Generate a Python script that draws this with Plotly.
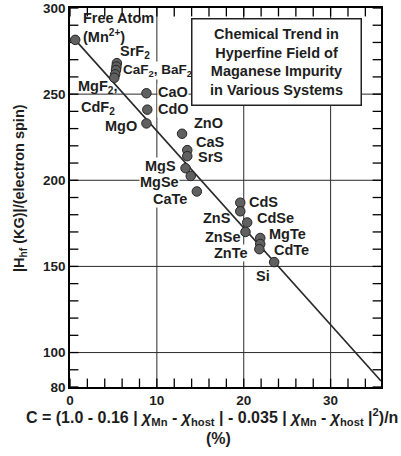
import plotly.graph_objects as go

# ---- data ----
systems = ["Free Atom", "SrF2", "CaF2", "BaF2", "MgF2", "CdF2",
           "CaO", "CdO", "MgO",
           "ZnO", "CaS", "SrS", "MgS", "MgSe", "CaTe",
           "CdS", "ZnS", "CdSe", "ZnSe", "MgTe", "CdTe", "ZnTe", "Si"]
c_percent = [0.6, 5.4, 5.35, 5.3, 5.2, 5.1,
             8.8, 8.9, 8.8,
             12.9, 13.5, 13.5, 13.3, 13.9, 14.6,
             19.6, 19.6, 20.4, 20.2, 21.9, 21.9, 21.8, 23.5]
h_field = [281.5, 268, 266, 264, 261.5, 259.5,
           250.5, 241, 233,
           227, 217.5, 214, 207, 202.5, 193.5,
           187, 182, 175.5, 170, 166.5, 163, 160, 152.5]

fit_x = [0.6, 35.8]
fit_y = [281.5, 83.5]

x_range = [0, 35.8]
y_range = [80, 300]
x_tick_vals = list(range(0, 36, 2))
x_tick_text = [str(v) if v % 10 == 0 else "" for v in x_tick_vals]
y_tick_vals = list(range(80, 301, 10))
y_label_vals = [80, 100, 150, 200, 250, 300]
y_tick_text = [str(v) if v in y_label_vals else "" for v in y_tick_vals]
x_grid_vals = [10, 20, 30]
y_grid_vals = [100, 150, 200, 250]

# ---- label texts and placement ----
label_text = ["Free Atom", "(Mn<sup>2+</sup>)", "SrF<sub>2</sub>",
              "CaF<sub>2</sub>, BaF<sub>2</sub>", "MgF<sub>2</sub>,", "CdF<sub>2</sub>",
              "CaO", "CdO", "MgO", "ZnO", "CaS", "SrS", "MgS", "MgSe", "CaTe",
              "CdS", "ZnS", "CdSe", "ZnSe", "MgTe", "ZnTe", "CdTe", "Si"]
label_x = [1.39, 1.39, 5.66, 5.95, 0.81, 1.15,
           10.05, 10.05, 7.85, 14.2, 14.43, 14.67, 12.36, 12.7, 13.63,
           20.44, 18.7, 21.36, 19.63, 22.75, 20.55, 23.33, 22.17]
label_y = [294.2, 283.5, 274.5, 264.0, 254.3, 241.8,
           251.2, 241.4, 231.5, 233.2, 222.2, 213.5, 208.3, 199, 189.1,
           187.4, 178.1, 178.1, 167.1, 168.8, 157.8, 159.5, 144.4]
label_size = [14.5, 14.5, 14.5, 13.5, 14.5, 14.5,
              14.5, 14.5, 14.5, 14.5, 14.5, 14.5, 14.5, 14.5, 14.5,
              14.5, 14.5, 14.5, 14.5, 14.5, 14.5, 14.5, 14.5]
label_anchor = ["left", "left", "left", "left", "left", "left",
                "left", "left", "right", "left", "left", "left", "right", "right", "right",
                "left", "right", "left", "right", "left", "right", "left", "center"]
label_bg = [False, False, False, True, False, False,
            True, True, False, False, False, False, True, True, True,
            False, False, False, False, False, True, False, False]

FONT = "Liberation Sans, Arial, sans-serif"
INK = "#1e1e1e"
GRID = "#2a2a2a"

fig = go.Figure()

# grid lines (below the data)
for gx in x_grid_vals:
    fig.add_vline(x=gx, line=dict(color=GRID, width=1), layer="below")
for gy in y_grid_vals:
    fig.add_hline(y=gy, line=dict(color=GRID, width=1), layer="below")

# inward tick marks on all four sides (half of each marker is clipped by the frame)
tick_mark = dict(color="black", width=1.3)
for edge_y in y_range:
    fig.add_trace(go.Scatter(
        x=x_tick_vals, y=[edge_y] * len(x_tick_vals), mode="markers",
        marker=dict(symbol="line-ns", size=12, line=tick_mark),
        cliponaxis=True, hoverinfo="skip", showlegend=False))
for edge_x in x_range:
    fig.add_trace(go.Scatter(
        x=[edge_x] * len(y_tick_vals), y=y_tick_vals, mode="markers",
        marker=dict(symbol="line-ew", size=12, line=tick_mark),
        cliponaxis=True, hoverinfo="skip", showlegend=False))

fig.add_trace(go.Scatter(
    x=fit_x, y=fit_y, mode="lines",
    line=dict(color="#2a2a2a", width=1.6),
    hoverinfo="skip", showlegend=False))

fig.add_trace(go.Scatter(
    x=c_percent, y=h_field, mode="markers", text=systems,
    marker=dict(size=9.5, color="#606060", line=dict(color="#262626", width=1)),
    showlegend=False))

for t, x, y, a, bg, s in zip(label_text, label_x, label_y, label_anchor, label_bg, label_size):
    fig.add_annotation(
        x=x, y=y, xref="x", yref="y", text=t, showarrow=False,
        xanchor=a, yanchor="middle",
        bgcolor="white" if bg else "rgba(0,0,0,0)", borderpad=0,
        font=dict(family=FONT, size=s, color=INK, weight="bold"))

# Title box
fig.add_annotation(
    xref="paper", yref="paper", x=0.665, y=0.974, xanchor="center", yanchor="top",
    text="Chemical Trend in<br>Hyperfine Field of<br>Maganese Impurity<br>in Various Systems",
    showarrow=False, align="center", bgcolor="white",
    bordercolor="#222", borderwidth=1.5, borderpad=2, width=164, height=81,
    font=dict(family=FONT, size=14.5, color=INK, weight="bold"))

# Axis titles
fig.add_annotation(
    xref="paper", yref="paper", x=-0.161, y=0.525, xanchor="center", yanchor="middle",
    textangle=-90, showarrow=False,
    text="|H<sub>hf</sub> (KG)|/(electron spin)",
    font=dict(family=FONT, size=14.5, color=INK, weight="bold"))
fig.add_annotation(
    xref="paper", yref="paper", x=0.455, y=0, yshift=-30, xanchor="center", yanchor="middle",
    showarrow=False,
    text="C = (1.0 - 0.16 | <i>χ</i><sub>Mn</sub> - <i>χ</i><sub>host</sub> | - 0.035 | "
         "<i>χ</i><sub>Mn</sub> - <i>χ</i><sub>host</sub> |<sup>2</sup>)/n",
    font=dict(family=FONT, size=16, color=INK, weight="bold"))
fig.add_annotation(
    xref="paper", yref="paper", x=0.477, y=0, yshift=-51, xanchor="center", yanchor="middle",
    showarrow=False, text="(%)",
    font=dict(family=FONT, size=16, color=INK, weight="bold"))

axis_common = dict(
    showline=True, linecolor="black", linewidth=1.5, mirror=True,
    ticks="",
    showgrid=False, zeroline=False, automargin=False,
    tickfont=dict(family=FONT, size=13.5, color=INK, weight="bold"),
)

fig.update_xaxes(range=x_range, tickmode="array",
                 tickvals=x_tick_vals, ticktext=x_tick_text, **axis_common)
fig.update_yaxes(range=y_range, tickmode="array",
                 tickvals=y_tick_vals, ticktext=y_tick_text, **axis_common)

fig.update_layout(
    width=401, height=456,
    margin=dict(l=70, r=20, t=8, b=69),
    paper_bgcolor="white", plot_bgcolor="white",
    showlegend=False,
)

fig.write_html("out.html")
